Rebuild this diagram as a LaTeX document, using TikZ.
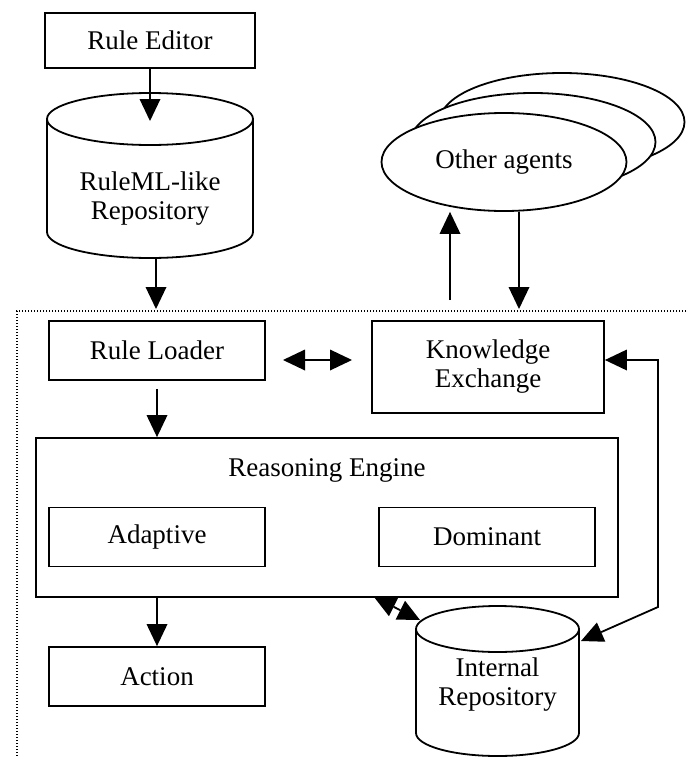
\documentclass[tikz,border=0pt]{standalone}
\usepackage{fontspec}
\setmainfont{Liberation Serif}
\usetikzlibrary{arrows.meta,shapes.geometric,calc}
\begin{document}
\begin{tikzpicture}[x=1pt,y=-1pt,
  txt/.style={font=\fontsize{27}{29}\selectfont,align=center,inner sep=0pt},
  box/.style={txt,draw,line width=1.8pt,fill=white,minimum width=216pt,minimum height=59pt},
  solid line/.style={line width=1.8pt},
  tipA/.tip={Triangle[width=21pt,length=22pt,line width=0pt]},
  arr/.style={line width=1.8pt,-tipA},
  darr/.style={line width=1.8pt,tipA-tipA},
  bound/.style={line width=1.2pt,dash pattern=on 1.2pt off 1.8pt}
]
\useasboundingbox (0,0) rectangle (686,758);

% agent boundary (dotted)
\draw[bound] (686,311) -- (17,311) -- (17,758);

% rule editor and the external rule repository
\node[box,minimum width=210pt,minimum height=55pt] (editor) at (150,40.5) {Rule Editor};
\draw[solid line,fill=white] (47,119) -- (47,232)
  arc[start angle=180,end angle=0,x radius=103,y radius=26] -- (253,119);
\draw[solid line] (150,119) ellipse[x radius=103,y radius=26];
\node[txt] (repo) at (150,199) {RuleML-like\\Repository};
\coordinate (repotop) at (150,121);
\coordinate (repobot) at (156,258);

% other agents (stacked ellipses)
\draw[solid line,fill=white] (562,122) ellipse[x radius=122.5,y radius=49];
\draw[solid line,fill=white] (533,142) ellipse[x radius=122.5,y radius=49];
\node[txt,draw,ellipse,line width=1.8pt,fill=white,minimum width=245pt,minimum height=98pt] (agents) at (504,162) {Other agents};

% components inside the agent
\node[box] (loader) at (157,350.5) {Rule Loader};
\node[box,minimum width=232pt,minimum height=92pt] (kex) at (488,367) {Knowledge\\Exchange};
\node[box,minimum width=582pt,minimum height=159pt] (engine) at (327,517.5) {};
\node[txt] (enginetitle) at (327,470) {Reasoning Engine};
\node[box] (adaptive) at (157,537) {Adaptive};
\node[box] (dominant) at (487,537) {Dominant};
\node[box] (action) at (157,676.5) {Action};

% internal repository
\draw[solid line,fill=white] (416,629) -- (416,733)
  arc[start angle=180,end angle=0,x radius=81.5,y radius=23] -- (579,629);
\draw[solid line] (497.5,629) ellipse[x radius=81.5,y radius=23];
\node[txt] (irepo) at (497.5,685) {Internal\\Repository};
\coordinate (irtopleft) at (420,620);
\coordinate (irright) at (581,641);

% connector end points
\coordinate (loaderin) at (156,309);
\coordinate (upfrom) at (450,300);
\coordinate (downto) at (519,309);
\coordinate (xl) at (283,360);
\coordinate (xr) at (352,360);
\coordinate (ebot) at (374,597);
\coordinate (corner) at (658,607);
\coordinate (kexin) at ($(kex.east)+(0,-7)$);

% connectors
\draw[arr] (editor.south) -- (repotop);
\draw[arr] (repobot) -- (loaderin);
\draw[arr] (upfrom) -- (upfrom |- agents.south);
\draw[arr] (downto |- agents.south) -- (downto);
\draw[darr] (xl) -- (xr);
\draw[arr] ($(loader.south)+(0,8)$) -- (loader.south |- engine.north);
\draw[arr] (engine.south -| action.north) -- (action.north);
\draw[darr] (ebot) -- (irtopleft);
\draw[darr] (irright) -- (corner) -- (corner |- kexin) -- (kexin);
\end{tikzpicture}
\end{document}
